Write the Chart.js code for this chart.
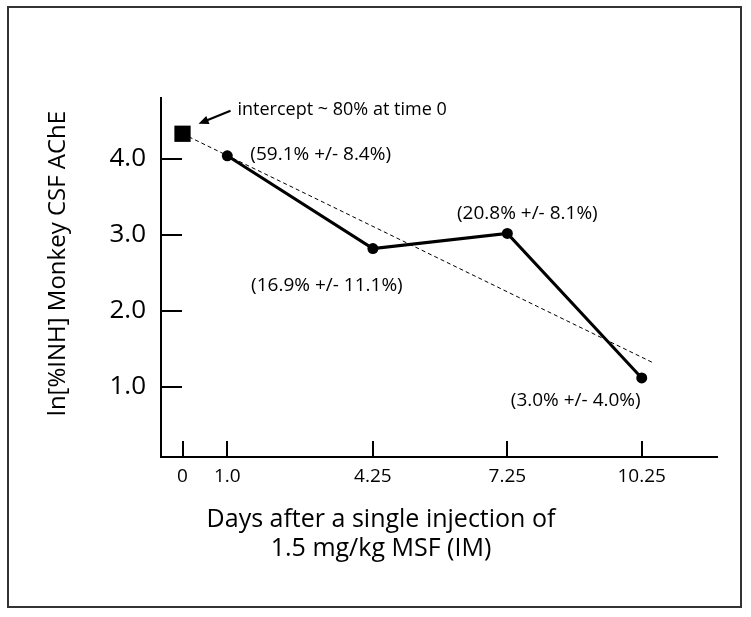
<!DOCTYPE html>
<html>
<head>
<meta charset="utf-8">
<script src="https://cdn.jsdelivr.net/npm/chart.js@4"></script>
<style>
  html, body { margin: 0; padding: 0; background: #fff; }
</style>
</head>
<body>
<canvas id="inhChart" width="751" height="617"></canvas>
<script>
// Data
const dayTicks = [0, 1, 4.25, 7.25, 10.25];
const dayTickLabels = ["0", "1.0", "4.25", "7.25", "10.25"];
const lnTicks = [1, 2, 3, 4];

const measuredDays = [1, 4.25, 7.25, 10.25];
const measuredLnInh = [4.04, 2.82, 3.02, 1.12];
const measuredLabels = ["(59.1% +/- 8.4%)", "(16.9% +/- 11.1%)", "(20.8% +/- 8.1%)", "(3.0% +/- 4.0%)"];

const interceptDays = [0];
const interceptLnInh = [4.33];
const interceptNote = "intercept ~ 80% at time 0";

const fitDays = [0, 10.5];
const fitLnInh = [4.33, 1.32];

const xTitleLines = ["Days after a single injection of", "1.5 mg/kg MSF (IM)"];
const yTitle = "ln[%INH] Monkey CSF AChE";

const toPoints = (xs, ys) => xs.map((x, i) => ({ x: x, y: ys[i] }));

Chart.defaults.font.family = "'Open Sans', sans-serif";
Chart.defaults.color = "#000";

// extra drawing: inside tick marks, point notes, arrow, axis titles, frame
const figureExtras = {
  id: "figureExtras",
  afterDraw(chart) {
    const ctx = chart.ctx;
    const area = chart.chartArea;
    const xs = chart.scales.x;
    const ys = chart.scales.y;
    ctx.save();

    // tick marks pointing into the plot
    ctx.strokeStyle = "#000";
    ctx.lineWidth = 2;
    dayTicks.forEach((d) => {
      const px = Math.round(xs.getPixelForValue(d));
      ctx.beginPath();
      ctx.moveTo(px, area.bottom);
      ctx.lineTo(px, area.bottom - 16);
      ctx.stroke();
    });
    lnTicks.forEach((v) => {
      const py = Math.round(ys.getPixelForValue(v));
      ctx.beginPath();
      ctx.moveTo(area.left, py);
      ctx.lineTo(area.left + 21, py);
      ctx.stroke();
    });

    // notes next to the measured points
    const offsets = [[23, -1, "left"], [-46, 37, "center"], [20, -20, "center"], [-66, 23, "center"]];
    ctx.font = "19px 'Open Sans', sans-serif";
    ctx.fillStyle = "#000";
    ctx.textBaseline = "middle";
    measuredDays.forEach((d, i) => {
      const px = xs.getPixelForValue(d);
      const py = ys.getPixelForValue(measuredLnInh[i]);
      ctx.textAlign = offsets[i][2];
      ctx.fillText(measuredLabels[i], px + offsets[i][0], py + offsets[i][1]);
    });

    // intercept note with arrow
    const ix = xs.getPixelForValue(interceptDays[0]);
    const iy = ys.getPixelForValue(interceptLnInh[0]);
    ctx.font = "18px 'Open Sans', sans-serif";
    ctx.textAlign = "left";
    ctx.textBaseline = "alphabetic";
    ctx.fillText(interceptNote, ix + 55, iy - 19);
    const ax0 = ix + 48, ay0 = iy - 23, ax1 = ix + 16, ay1 = iy - 10;
    ctx.beginPath();
    ctx.moveTo(ax0, ay0);
    ctx.lineTo(ax1 + 8, ay1 - 3.3);
    ctx.stroke();
    const ang = Math.atan2(ay1 - ay0, ax1 - ax0);
    ctx.beginPath();
    ctx.moveTo(ax1, ay1);
    ctx.lineTo(ax1 - 11 * Math.cos(ang - 0.4), ay1 - 11 * Math.sin(ang - 0.4));
    ctx.lineTo(ax1 - 11 * Math.cos(ang + 0.4), ay1 - 11 * Math.sin(ang + 0.4));
    ctx.closePath();
    ctx.fill();

    // x axis title (sits left of the axis centre in the original)
    ctx.font = "25px 'Open Sans', sans-serif";
    ctx.textAlign = "center";
    const cx = (area.left + area.right) / 2 - 58;
    ctx.fillText(xTitleLines[0], cx, area.bottom + 70);
    ctx.fillText(xTitleLines[1], cx, area.bottom + 99);

    // y axis title, a bit above the axis centre
    ctx.save();
    ctx.translate(area.left - 103, (area.top + area.bottom) / 2 - 14);
    ctx.rotate(-Math.PI / 2);
    ctx.font = "24px 'Open Sans', sans-serif";
    ctx.textAlign = "center";
    ctx.textBaseline = "middle";
    ctx.fillText(yTitle, 0, 0);
    ctx.restore();

    // outer frame
    ctx.strokeStyle = "#333";
    ctx.lineWidth = 2;
    ctx.strokeRect(8, 7, 733, 600);
    ctx.restore();
  }
};

const inhChart = new Chart(document.getElementById("inhChart").getContext("2d"), {
  type: "scatter",
  data: {
    datasets: [
      {
        label: "fit",
        data: toPoints(fitDays, fitLnInh),
        showLine: true,
        borderColor: "#000",
        borderWidth: 1,
        borderDash: [4, 3],
        pointRadius: 0,
      },
      {
        label: "measured",
        data: toPoints(measuredDays, measuredLnInh),
        showLine: true,
        borderColor: "#000",
        borderWidth: 3,
        backgroundColor: "#000",
        pointRadius: 5.5,
        pointBackgroundColor: "#000",
        pointBorderWidth: 0,
      },
      {
        label: "intercept",
        data: toPoints(interceptDays, interceptLnInh),
        showLine: false,
        pointStyle: "rect",
        pointRadius: 11.5,
        pointBackgroundColor: "#000",
        pointBorderWidth: 0,
      },
    ],
  },
  options: {
    responsive: false,
    animation: false,
    devicePixelRatio: 1,
    layout: { padding: { top: 98, right: 34, left: 20, bottom: 0 } },
    plugins: {
      legend: { display: false },
      tooltip: { enabled: false },
    },
    scales: {
      x: {
        type: "linear",
        min: -0.48,
        max: 11.93,
        afterBuildTicks: (scale) => { scale.ticks = dayTicks.map((v) => ({ value: v })); },
        afterFit: (scale) => { scale.height = 617 - 457; },
        ticks: {
          callback: (v) => dayTickLabels[dayTicks.indexOf(v)],
          font: { size: 19 },
          color: "#000",
          padding: 8,
          maxRotation: 0,
          autoSkip: false,
        },
        grid: { display: false, drawTicks: false },
        border: { display: true, color: "#000", width: 2 },
      },
      y: {
        type: "linear",
        min: 0.08,
        max: 4.8,
        afterBuildTicks: (scale) => { scale.ticks = lnTicks.map((v) => ({ value: v })); },
        afterFit: (scale) => { scale.width = 161 - 20; },
        ticks: {
          callback: (v) => v.toFixed(1),
          font: { size: 26 },
          color: "#000",
          padding: 15,
        },
        grid: { display: false, drawTicks: false },
        border: { display: true, color: "#000", width: 2 },
      },
    },
  },
  plugins: [figureExtras],
});
</script>
</body>
</html>
